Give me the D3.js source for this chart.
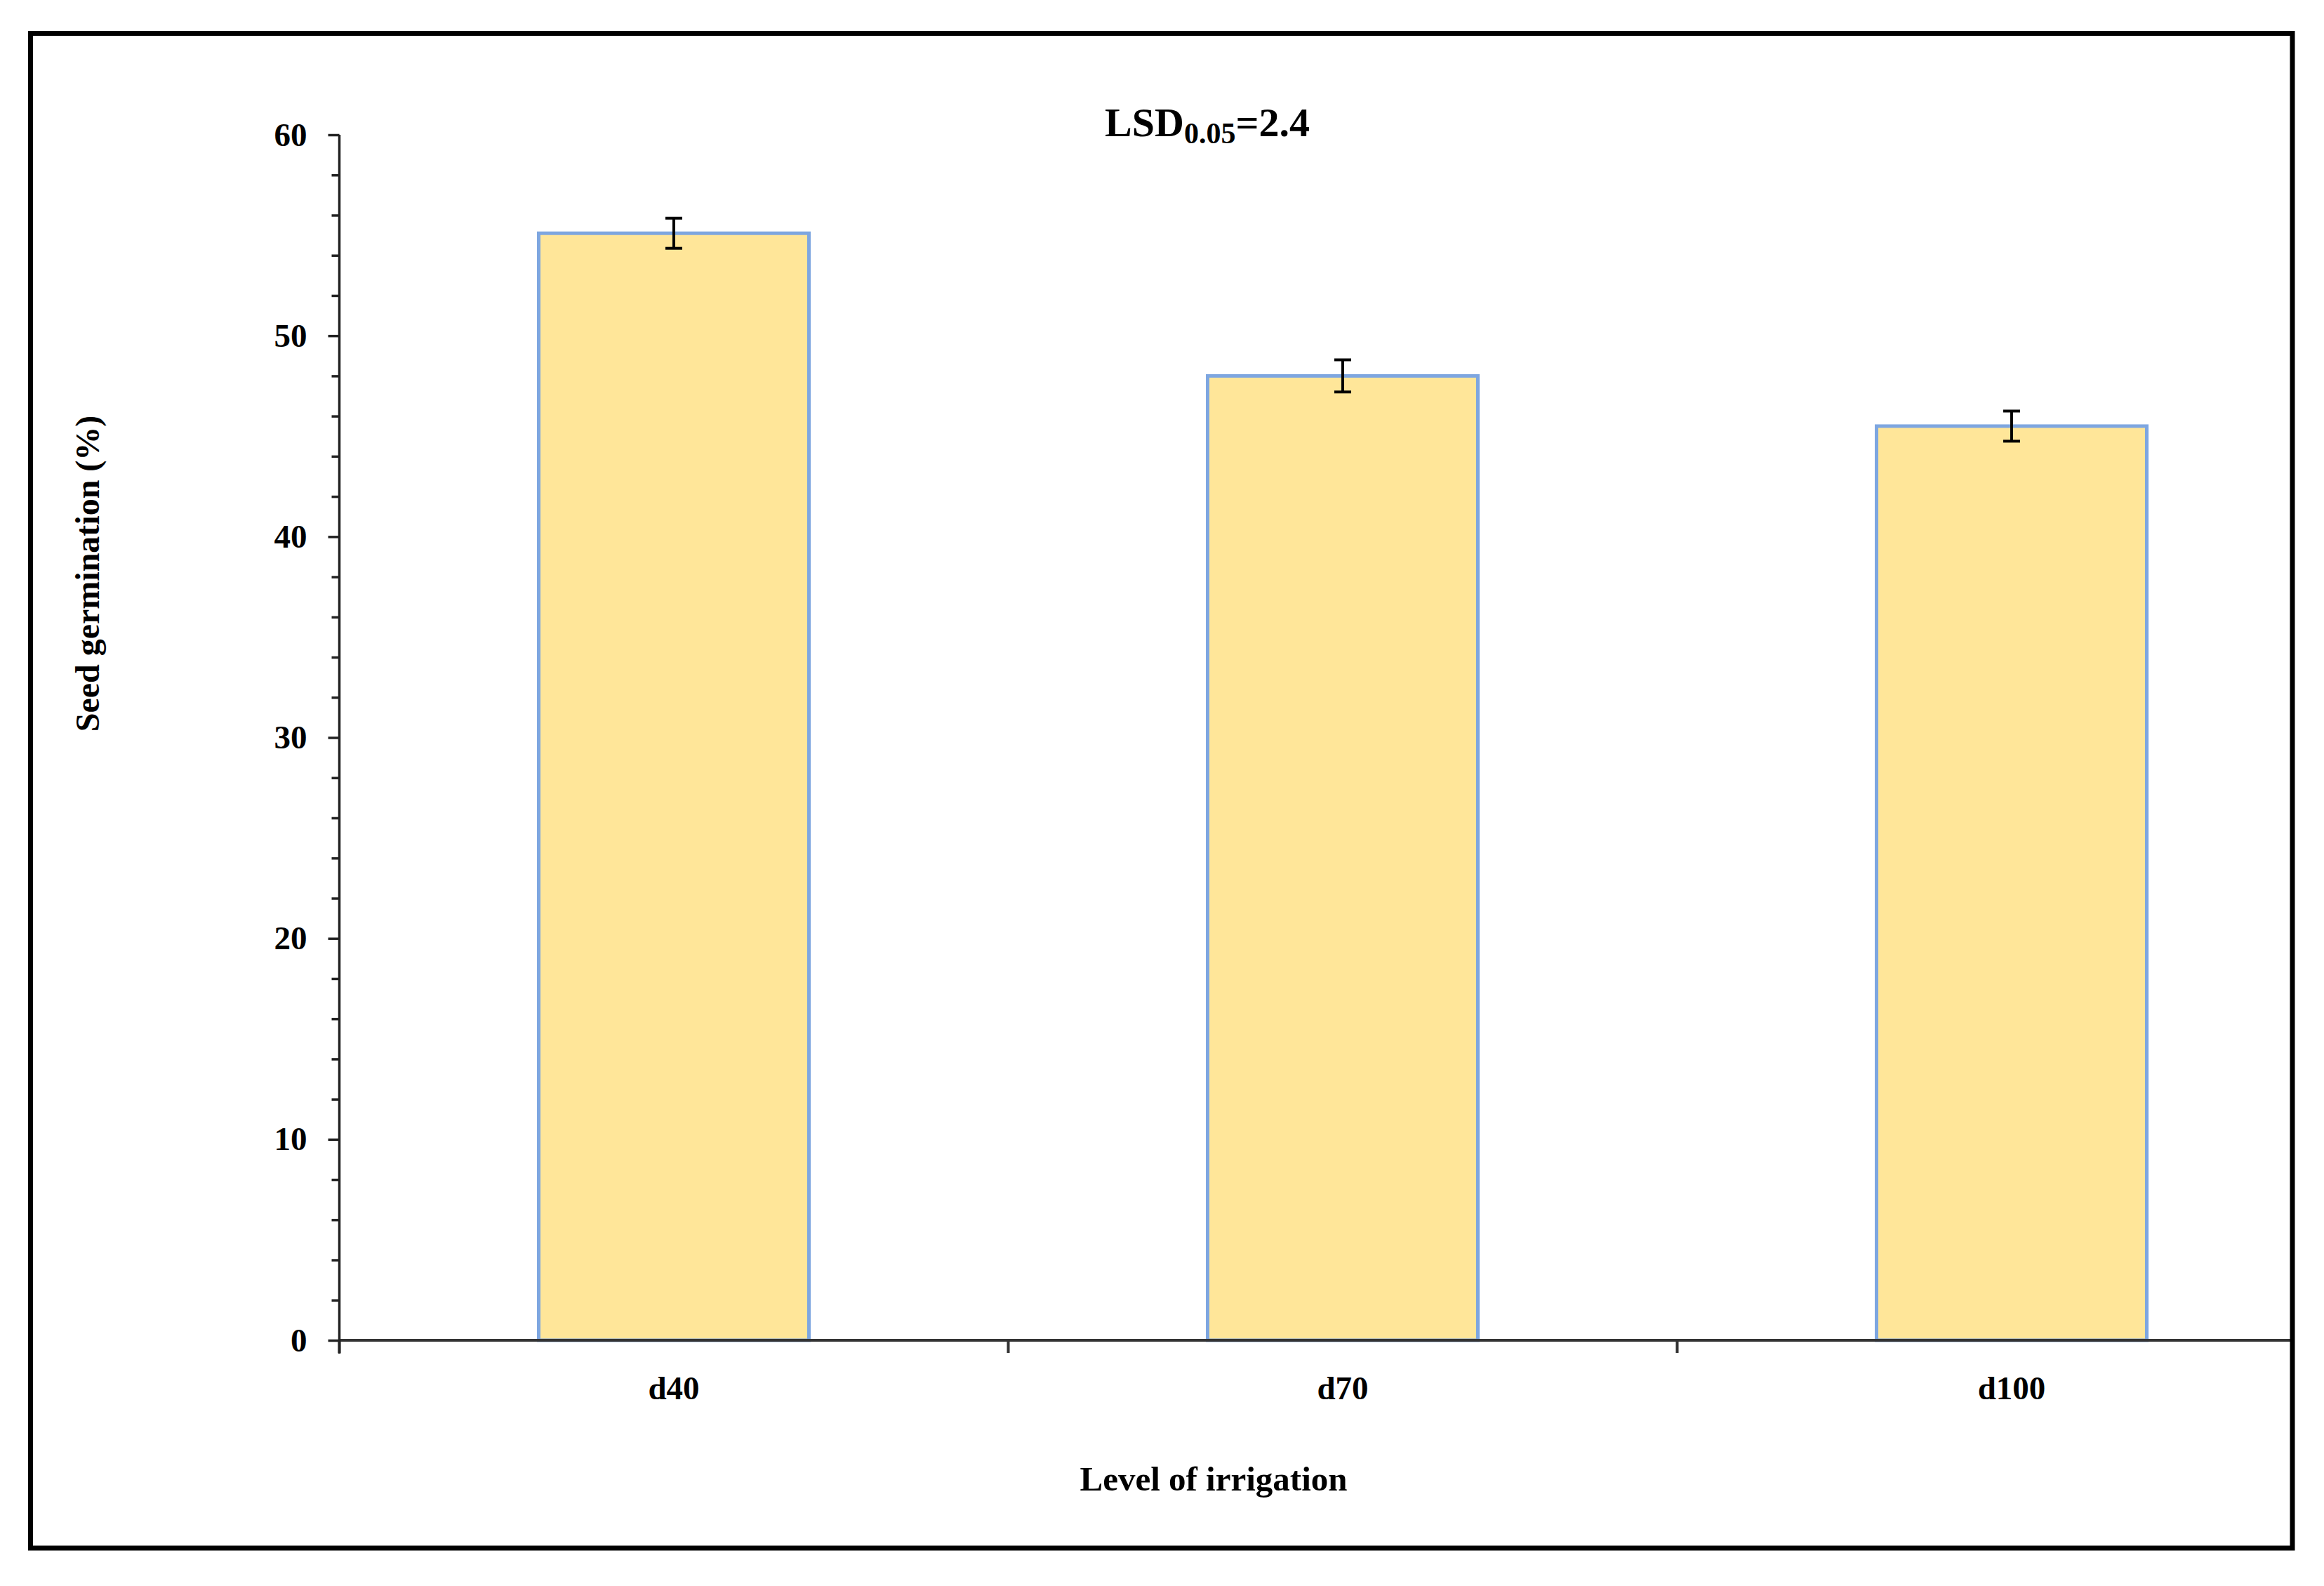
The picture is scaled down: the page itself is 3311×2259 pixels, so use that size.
<!DOCTYPE html>
<html>
<head>
<meta charset="utf-8">
<script src="https://cdn.jsdelivr.net/npm/d3@7/dist/d3.min.js"></script>
<style>
  html, body { margin: 0; padding: 0; background: #fff; }
  svg { display: block; }
  text { font-family: "Liberation Serif", "DejaVu Serif", serif; font-weight: bold; fill: #000; }
</style>
</head>
<body>
<script>
// ---- data ----
const categories = ["d40", "d70", "d100"];
const values = [55.1, 48.0, 45.5];
const errors = [0.75, 0.8, 0.75];
const yMajorTicks = [0, 10, 20, 30, 40, 50, 60];
const yMinorTicks = [2, 4, 6, 8, 12, 14, 16, 18, 22, 24, 26, 28, 32, 34, 36, 38, 42, 44, 46, 48, 52, 54, 56, 58];
const titleMain = "LSD";
const titleSub = "0.05";
const titleTail = "=2.4";
const xTitle = "Level of irrigation";
const yTitle = "Seed germination (%)";

// ---- layout ----
const W = 3311, H = 2259;
const frame = { x: 43.5, y: 47.5, w: 3222.5, h: 2157.5 };
const plotLeft = 483.5, plotTop = 192, plotBottom = 1909;
const step = 953;

const svg = d3.select("body").append("svg").attr("width", W).attr("height", H);
svg.append("rect").attr("width", W).attr("height", H).attr("fill", "#fff");

svg.append("defs").append("clipPath").attr("id", "clipFrame")
  .append("rect").attr("x", frame.x).attr("y", frame.y).attr("width", frame.w).attr("height", frame.h);

const x = d3.scaleBand().domain(categories).range([plotLeft, plotLeft + step * categories.length]).padding(0);
const y = d3.scaleLinear().domain([0, 60]).range([plotBottom, plotTop]);
const barW = x.bandwidth() * 0.404;

const g = svg.append("g").attr("clip-path", "url(#clipFrame)");

// bars
g.selectAll("rect.bar").data(categories).join("rect")
  .attr("class", "bar")
  .attr("x", d => x(d) + x.bandwidth() / 2 - barW / 2)
  .attr("y", (d, i) => y(values[i]))
  .attr("width", barW)
  .attr("height", (d, i) => y(0) - y(values[i]))
  .attr("fill", "#FFE699")
  .attr("stroke", "#7ea6e0")
  .attr("stroke-width", 5);

// error bars
const eb = g.selectAll("g.err").data(categories).join("g").attr("class", "err")
  .attr("transform", d => `translate(${x(d) + x.bandwidth() / 2},0)`);
eb.append("line")
  .attr("x1", 0).attr("x2", 0)
  .attr("y1", (d, i) => y(values[i] + errors[i]))
  .attr("y2", (d, i) => y(values[i] - errors[i]))
  .attr("stroke", "#000").attr("stroke-width", 4);
eb.append("line")
  .attr("x1", -12).attr("x2", 12)
  .attr("y1", (d, i) => y(values[i] + errors[i]))
  .attr("y2", (d, i) => y(values[i] + errors[i]))
  .attr("stroke", "#000").attr("stroke-width", 4);
eb.append("line")
  .attr("x1", -12).attr("x2", 12)
  .attr("y1", (d, i) => y(values[i] - errors[i]))
  .attr("y2", (d, i) => y(values[i] - errors[i]))
  .attr("stroke", "#000").attr("stroke-width", 4);

// x axis line (runs to the frame)
g.append("line")
  .attr("x1", plotLeft).attr("x2", frame.x + frame.w)
  .attr("y1", y(0)).attr("y2", y(0))
  .attr("stroke", "#333").attr("stroke-width", 4);

// x boundary ticks
g.selectAll("line.xtick").data(categories).join("line")
  .attr("class", "xtick")
  .attr("x1", d => x(d)).attr("x2", d => x(d))
  .attr("y1", y(0)).attr("y2", y(0) + 18)
  .attr("stroke", "#333").attr("stroke-width", 4);

// x labels
svg.selectAll("text.xlab").data(categories).join("text")
  .attr("class", "xlab")
  .attr("x", d => x(d) + x.bandwidth() / 2)
  .attr("y", y(0) + 84)
  .attr("text-anchor", "middle")
  .attr("font-size", 47)
  .text(d => d);

// y axis
const yAxisG = svg.append("g").attr("transform", `translate(${plotLeft},0)`);
yAxisG.call(d3.axisLeft(y).tickValues(yMajorTicks).tickSize(16).tickPadding(30).tickFormat(d3.format("d")));
yAxisG.select(".domain").remove();
yAxisG.selectAll(".tick line").attr("stroke", "#222").attr("stroke-width", 3.5);
yAxisG.selectAll(".tick text").attr("font-size", 47).attr("font-family", null).style("font-weight", "bold");

const yMinorG = svg.append("g").attr("transform", `translate(${plotLeft},0)`);
yMinorG.call(d3.axisLeft(y).tickValues(yMinorTicks).tickSize(11).tickFormat(""));
yMinorG.select(".domain").remove();
yMinorG.selectAll(".tick line").attr("stroke", "#222").attr("stroke-width", 3.5);

svg.append("line")
  .attr("x1", plotLeft).attr("x2", plotLeft)
  .attr("y1", y(60)).attr("y2", y(0) + 19)
  .attr("stroke", "#222").attr("stroke-width", 3.5);

// title
const t = svg.append("text")
  .attr("x", 1720).attr("y", 194)
  .attr("text-anchor", "middle")
  .attr("font-size", 58);
t.append("tspan").text(titleMain);
t.append("tspan").attr("font-size", 42).attr("dy", 10).text(titleSub);
t.append("tspan").attr("dy", -10).text(titleTail);

// axis titles
svg.append("text")
  .attr("x", 1729).attr("y", 2123)
  .attr("text-anchor", "middle")
  .attr("font-size", 49)
  .text(xTitle);

svg.append("text")
  .attr("transform", "translate(141,817) rotate(-90)")
  .attr("text-anchor", "middle")
  .attr("font-size", 48)
  .text(yTitle);

// frame
svg.append("rect")
  .attr("x", frame.x).attr("y", frame.y)
  .attr("width", frame.w).attr("height", frame.h)
  .attr("fill", "none").attr("stroke", "#000").attr("stroke-width", 7);
</script>
</body>
</html>
